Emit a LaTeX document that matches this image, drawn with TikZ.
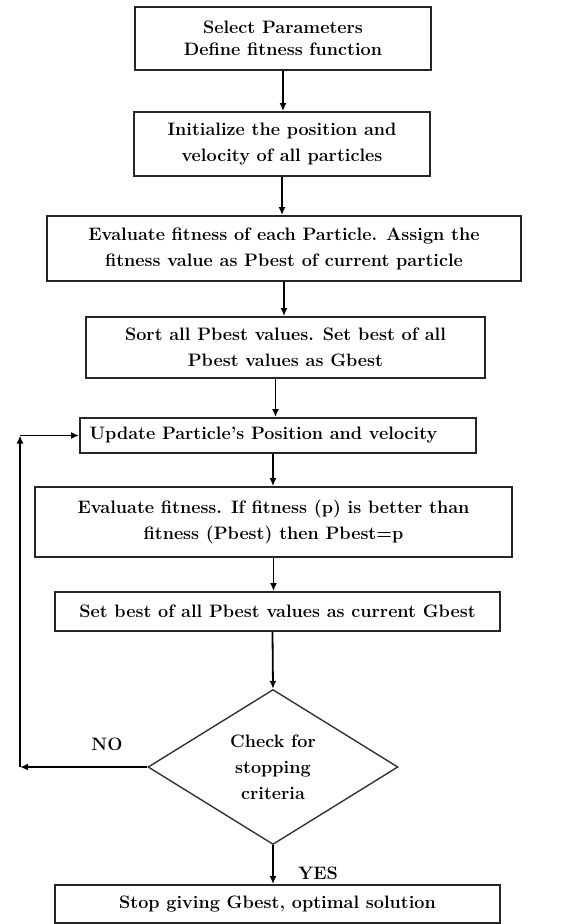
\documentclass[tikz,border=0pt]{standalone}
\usetikzlibrary{shapes.geometric,arrows.meta}
\begin{document}
\begin{tikzpicture}[x=1pt,y=-1pt,
  every node/.style={font=\fontsize{18}{26}\selectfont\bfseries, align=center},
  stepbox/.style={draw=black!85, line width=1.8pt, inner sep=0pt},
  decision/.style={draw=black!80, line width=1.4pt, diamond, aspect=1.6, inner sep=0pt, minimum width=250pt, minimum height=155pt},
  flow/.style={draw=black, line width=1.8pt, -{Latex[length=8pt,width=7pt]}},
  lbl/.style={inner sep=0pt}]
\useasboundingbox (0,0) rectangle (564,924);
\node[stepbox, minimum width=296pt, minimum height=63pt, font=\fontsize{18}{22}\selectfont\bfseries] (b1) at (283,38.5) {Select Parameters\\Define fitness function};
\node[stepbox, minimum width=296pt, minimum height=64pt] (b2) at (282,144) {Initialize the position and\\velocity of all particles};
\node[stepbox, minimum width=474pt, minimum height=65pt] (b3) at (284,248.5) {Evaluate fitness of each Particle. Assign the\\fitness value as Pbest of current particle};
\node[stepbox, minimum width=399pt, minimum height=61pt] (b4) at (285.5,347.5) {Sort all Pbest values. Set best of all\\Pbest values as Gbest};
\node[stepbox, minimum width=396pt, minimum height=35pt] (b5) at (278,435.5) {Update Particle’s Position and velocity\hspace*{29pt}};
\node[stepbox, minimum width=477pt, minimum height=70pt] (b6) at (273.5,522) {Evaluate fitness. If fitness (p) is better than\\fitness (Pbest) then Pbest=p};
\node[stepbox, minimum width=445pt, minimum height=39pt] (b7) at (277.5,611.5) {Set best of all Pbest values as current Gbest};
\node[decision] (d) at (273,767) {Check for\\stopping\\criteria};
\node[stepbox, minimum width=445pt, minimum height=38pt] (b8) at (277.5,904) {Stop giving Gbest, optimal solution};
\node[lbl] (no) at (107,744) {NO};
\node[lbl] (yes) at (318,873) {YES};
\coordinate (l1) at (20,767);
\coordinate (l2) at (l1 |- b5.west);
\draw[flow] (b1.south) -- (b1.south |- b2.north);
\draw[flow] (b2.south) -- (b2.south |- b3.north);
\draw[flow] (b3.south) -- (b3.south |- b4.north);
\draw[flow] ([xshift=-10pt]b4.south) -- ([xshift=-10pt]b4.south |- b5.north);
\draw[flow] ([xshift=-5pt]b5.south) -- ([xshift=-5pt]b5.south |- b6.north);
\draw[flow] (b6.south) -- (b6.south |- b7.north);
\draw[flow] ([xshift=-5pt]b7.south) -- (d.north);
\draw[flow] (d.south) -- (d.south |- b8.north);
\draw[flow] (d.west) -- (l1);
\draw[flow] (l1) -- (l2);
\draw[flow] (l2) -- (b5.west);
\end{tikzpicture}
\end{document}
